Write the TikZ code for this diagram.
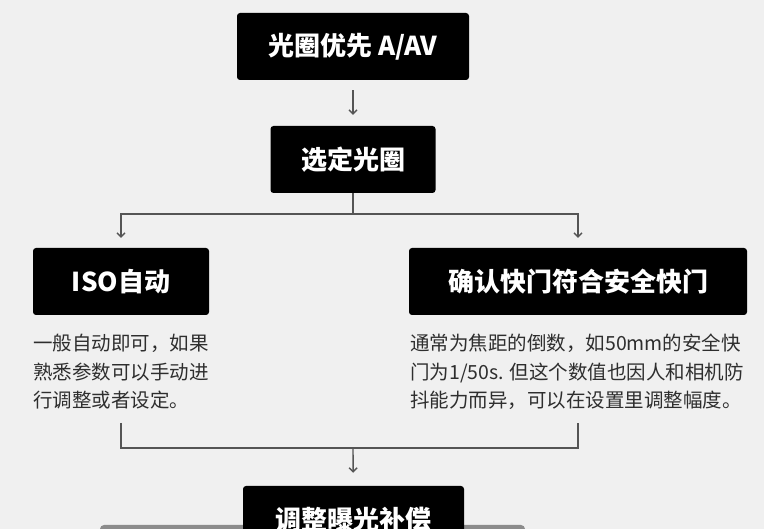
\documentclass[tikz,border=0pt]{standalone}
\usepackage{fontspec}
\setmainfont{Noto Sans CJK SC}
\usepackage{xcolor}
\usetikzlibrary{positioning, arrows.meta}
\definecolor{bgGray}{HTML}{F0F0F0}
\definecolor{lineGray}{HTML}{555555}
\definecolor{noteText}{HTML}{2E2E2E}
\definecolor{barGray}{HTML}{8C8C8C}

\begin{document}
\begin{tikzpicture}[x=1pt, y=-1pt,
    stepbox/.style={fill=black, text=white, rounded corners=3pt, minimum height=67pt,
      inner sep=0pt, font=\fontsize{26}{30}\selectfont\bfseries},
    note/.style={text=noteText, align=left, inner sep=0pt, anchor=north west,
      font=\fontsize{19.5}{28.5}\selectfont},
    wire/.style={lineGray, line width=1.4pt},
    link/.style={wire, -{Straight Barb[length=4pt, width=8pt]}}]
  % Canvas
  \useasboundingbox (0,0) rectangle (764,529);
  \fill[bgGray] (0,0) rectangle (764,529);
  \clip (0,0) rectangle (764,529);
  % Gray bar at the bottom edge
  \fill[barGray, rounded corners=4pt] (100,525) rectangle (525,545);
  % Steps
  \node[stepbox, minimum width=232pt] (mode) at (353,46.5) {光圈优先 A/AV};
  \node[stepbox, minimum width=165pt] (aperture) at (353,159.5) {选定光圈};
  \node[stepbox, minimum width=176pt] (iso) at (121,281.5) {ISO自动};
  \node[stepbox, minimum width=338pt] (shutter) at (578,281.5) {确认快门符合安全快门};
  \node[stepbox, minimum width=221pt] (exposure) at (353.5,519.5) {调整曝光补偿};
  % Notes
  \node[note] (isonote) at (33,334) {一般自动即可，如果\\熟悉参数可以手动进\\行调整或者设定。};
  \node[note] (shutternote) at (410,334) {通常为焦距的倒数，如50mm的安全快\\门为1/50s. 但这个数值也因人和相机防\\抖能力而异，可以在设置里调整幅度。};
  % Branch points
  \coordinate (split) at (353,214);
  \coordinate (merge) at (353,448);
  \coordinate (isotail) at (121,423);
  \coordinate (shuttertail) at (578,423);
  % Connectors
  \draw[link, shorten <=10pt, shorten >=11pt] (mode) -- (aperture);
  \draw[wire] (aperture.south) -- (split);
  \draw[link, shorten >=10pt] (split) -| (iso.north);
  \draw[link, shorten >=10pt] (split) -| (shutter.north);
  \draw[wire] (isotail) |- (merge) -| (shuttertail);
  \draw[link, shorten >=13pt] (merge) -- (exposure);
\end{tikzpicture}
\end{document}
